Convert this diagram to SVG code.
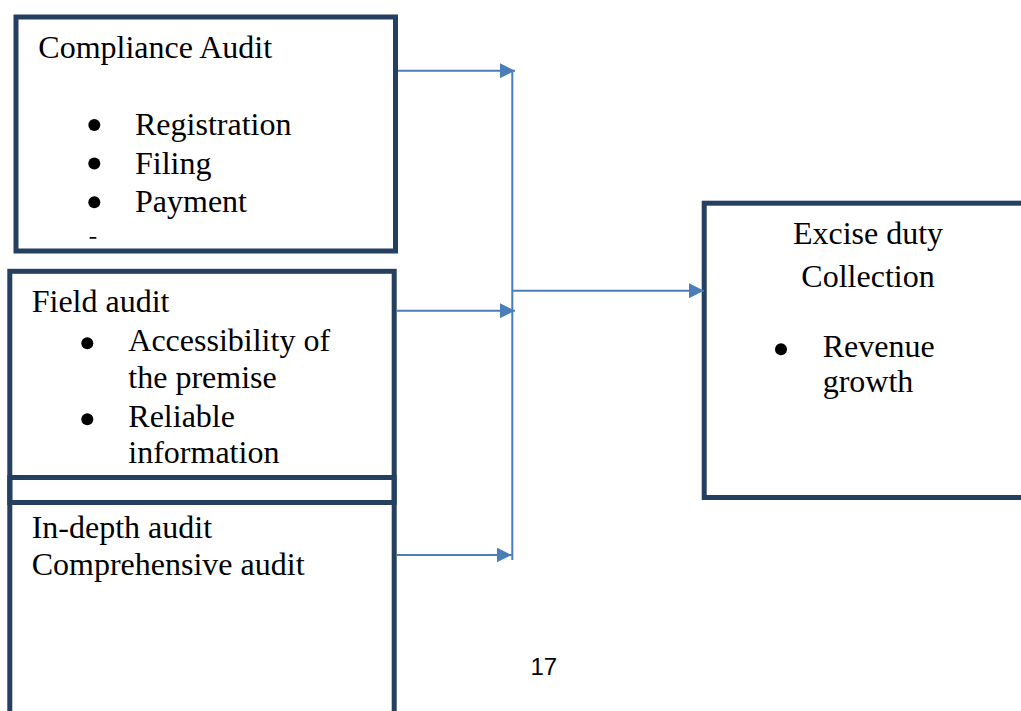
<svg xmlns="http://www.w3.org/2000/svg" width="1021" height="711" viewBox="0 0 1021 711">
<style>
.box{fill:none;stroke:#243F60;stroke-width:5}
.t{font-family:"Liberation Serif","Times New Roman",serif;font-size:32px;fill:#000}
.c{text-anchor:middle}
.dot{fill:#000}
.conn{stroke:#4A7EBB;stroke-width:2;fill:none}
.pg{font-family:"Liberation Sans",Arial,sans-serif;font-size:24px;fill:#000}
</style>
<defs>
<marker id="ah" viewBox="0 0 15 15" refX="15" refY="7.5" markerWidth="15" markerHeight="15" markerUnits="userSpaceOnUse" orient="auto">
<path d="M0,0 L15,7.5 L0,15 Z" fill="#4A7EBB"/>
</marker>
</defs>
<rect x="0" y="0" width="1021" height="711" fill="#fff"/>
<g id="compliance">
<rect class="box" x="16" y="17" width="379.5" height="234"/>
<text class="t" x="38.3" y="58.3">Compliance Audit</text>
<circle class="dot" cx="94.3" cy="125" r="6"/>
<text class="t" x="135" y="135">Registration</text>
<circle class="dot" cx="94.3" cy="163.5" r="6"/>
<text class="t" x="135" y="173.5">Filing</text>
<circle class="dot" cx="94.3" cy="202.3" r="6"/>
<text class="t" x="135" y="212.3">Payment</text>
<rect class="dot" x="89.5" y="237" width="7" height="1.8" rx="0.9"/>
</g>
<g id="field">
<rect class="box" x="9.8" y="271.3" width="384.4" height="231.2"/>
<text class="t" x="31.7" y="312.3">Field audit</text>
<circle class="dot" cx="87.3" cy="343.3" r="6"/>
<text class="t" x="128.3" y="350.7">Accessibility of</text>
<text class="t" x="128.3" y="387.5">the premise</text>
<circle class="dot" cx="87.3" cy="419.3" r="6"/>
<text class="t" x="128.3" y="426.7">Reliable</text>
<text class="t" x="128.3" y="463.3">information</text>
</g>
<g id="indepth">
<rect class="box" x="9.8" y="477.5" width="384.4" height="250"/>
<text class="t" x="31.7" y="538.3">In-depth audit</text>
<text class="t" x="31.7" y="575">Comprehensive audit</text>
</g>
<g id="excise">
<rect class="box" x="704.2" y="203.2" width="330" height="294.3"/>
<text class="t c" x="868" y="244">Excise duty</text>
<text class="t c" x="868" y="286.7">Collection</text>
<circle class="dot" cx="781" cy="349.3" r="6"/>
<text class="t" x="822.7" y="356.7">Revenue</text>
<text class="t" x="822.7" y="392">growth</text>
</g>
<g id="connectors">
<line class="conn" x1="398" y1="70.7" x2="515" y2="70.7" marker-end="url(#ah)"/>
<line class="conn" x1="396.7" y1="310.7" x2="515" y2="310.7" marker-end="url(#ah)"/>
<line class="conn" x1="396.5" y1="555" x2="511.7" y2="555" marker-end="url(#ah)"/>
<line class="conn" x1="512.3" y1="70" x2="512.3" y2="560"/>
<line class="conn" x1="512.3" y1="290.7" x2="704" y2="290.7" marker-end="url(#ah)"/>
</g>
<text class="pg" x="530.5" y="675">17</text>
</svg>
